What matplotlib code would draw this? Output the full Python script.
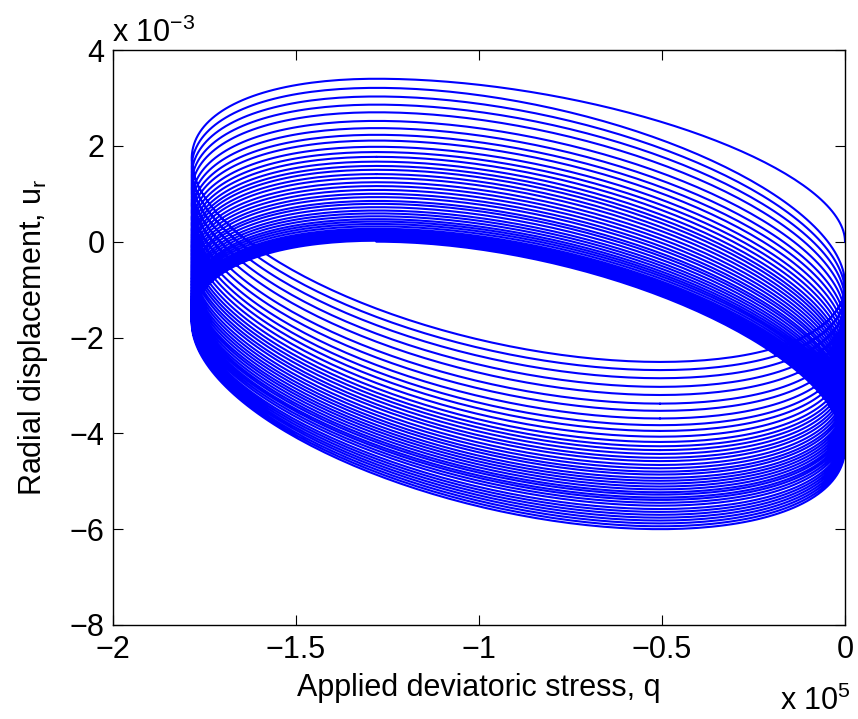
import numpy as np
import matplotlib
matplotlib.use("Agg")
import matplotlib.pyplot as plt

# q in units of 1e5, u_r in units of 1e-3
q_min = -1.785
q_max = 0.0
u_start = 0.0

# u_r at the top of each loop (near q = -1.28)
loop_tops = [3.40, 3.21, 3.03, 2.86, 2.70, 2.52, 2.37, 2.23, 2.11, 1.98,
             1.87, 1.77, 1.67, 1.58, 1.50, 1.41, 1.33, 1.24, 1.16, 1.08,
             1.00, 0.93, 0.85, 0.79, 0.72, 0.65, 0.59, 0.53, 0.47, 0.42,
             0.37, 0.32, 0.27, 0.23, 0.19, 0.15, 0.12, 0.08, 0.05, 0.02,
             0.00]
# u_r at the bottom of each loop (near q = -0.5)
loop_bottoms = [-2.51, -2.68, -2.85, -3.03, -3.20, -3.38, -3.53, -3.69, -3.83, -3.95,
                -4.07, -4.18, -4.27, -4.35, -4.43, -4.51, -4.58, -4.66, -4.73, -4.80,
                -4.86, -4.93, -4.99, -5.05, -5.11, -5.17, -5.23, -5.28, -5.34, -5.39,
                -5.45, -5.51, -5.58, -5.64, -5.70, -5.76, -5.82, -5.88, -5.94, -6.00]

phase = np.deg2rad(-25.7)  # lag of u_r behind the loading

qc = (q_min + q_max) / 2
qa = (q_max - q_min) / 2
t_top = np.pi / 2 - phase
s0 = np.sin(phase)

# first half cycle starts at (0, 0)
b_first = (2 * u_start - loop_tops[0] * (1 + s0)) / (1 - s0)
extremes = [b_first]
for i, t in enumerate(loop_tops):
    extremes.append(t)
    if i < len(loop_bottoms):
        extremes.append(loop_bottoms[i])

qs, us = [], []
for k in range(len(extremes) - 1):
    a, b = extremes[k], extremes[k + 1]
    c = (a + b) / 2
    amp = abs(a - b) / 2
    if k == 0:
        th = np.linspace(0, t_top, 80)
    else:
        th0 = t_top + (k - 1) * np.pi
        th = np.linspace(th0, th0 + np.pi, 120)
    qs.append(qc + qa * np.cos(th))
    us.append(c + amp * np.sin(th + phase))
q = np.concatenate(qs)
u = np.concatenate(us)

plt.rcParams['font.family'] = ['Liberation Sans', 'DejaVu Sans']
plt.rcParams['mathtext.fontset'] = 'custom'
plt.rcParams['mathtext.rm'] = 'Liberation Sans'

fs = 22

fig = plt.figure(figsize=(8.58, 7.19), dpi=100)
ax = fig.add_axes([113 / 858, 94 / 719, 732 / 858, 575 / 719])
ax.plot(q, u, color='#0000ff', linewidth=1.5)

ax.set_xlim(-2, 0)
ax.set_ylim(-8, 4)
ax.set_xticks([-2, -1.5, -1, -0.5, 0])
ax.set_xticklabels(['\u22122', '\u22121.5', '\u22121', '\u22120.5', '0'])
ax.set_yticks([-8, -6, -4, -2, 0, 2, 4])
ax.set_yticklabels(['\u22128', '\u22126', '\u22124', '\u22122', '0', '2', '4'])
ax.tick_params(direction='in', length=7, width=0.8, labelsize=fs,
               top=True, right=True)
ax.tick_params(axis='x', pad=7)
ax.tick_params(axis='y', pad=6)
for sp in ax.spines.values():
    sp.set_linewidth(1.0)

ax.set_xlabel('Applied deviatoric stress, q', fontsize=fs, labelpad=6)
ax.set_ylabel('Radial displacement, u$_\\mathregular{r}$', fontsize=fs, labelpad=14)

fig.text(112 / 858, 677 / 719, 'x 10$^{\\mathregular{\u22123}}$', fontsize=fs,
         ha='left', va='baseline')
fig.text(851 / 858, 9 / 719, 'x 10$^{\\mathregular{5}}$', fontsize=fs,
         ha='right', va='baseline')

fig.savefig('out.png', dpi=100)
